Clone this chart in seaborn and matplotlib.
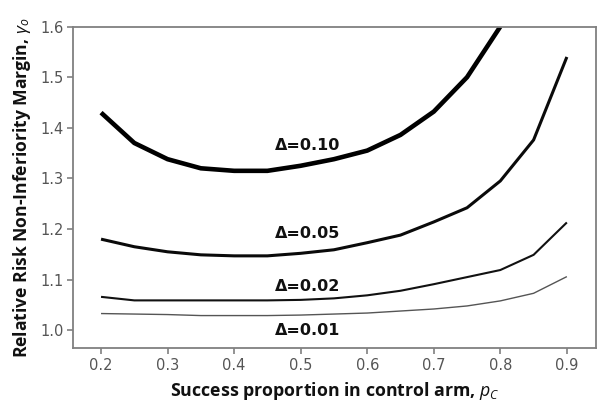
import matplotlib
matplotlib.use("Agg")
import matplotlib.pyplot as plt
import seaborn as sns
import pandas as pd

# ---- data ----
pc = [0.20, 0.25, 0.30, 0.35, 0.40, 0.45, 0.50, 0.55, 0.60, 0.65, 0.70, 0.75, 0.80, 0.85, 0.90]
gamma_d10 = [1.430, 1.370, 1.338, 1.320, 1.315, 1.315, 1.325, 1.338, 1.355, 1.386, 1.432, 1.500, 1.600]
gamma_d05 = [1.180, 1.165, 1.155, 1.149, 1.147, 1.147, 1.152, 1.159, 1.173, 1.188, 1.214, 1.242, 1.295, 1.376, 1.540]
gamma_d02 = [1.066, 1.059, 1.059, 1.059, 1.059, 1.059, 1.060, 1.063, 1.069, 1.078, 1.091, 1.105, 1.119, 1.149, 1.213]
gamma_d01 = [1.033, 1.032, 1.031, 1.029, 1.029, 1.029, 1.030, 1.032, 1.034, 1.038, 1.042, 1.048, 1.058, 1.073, 1.106]
labels = ["Δ=0.10", "Δ=0.05", "Δ=0.02", "Δ=0.01"]
label_x = [0.51, 0.51, 0.51, 0.51]
label_y = [1.366, 1.192, 1.086, 1.000]
xticks = [0.2, 0.3, 0.4, 0.5, 0.6, 0.7, 0.8, 0.9]
yticks = [1.0, 1.1, 1.2, 1.3, 1.4, 1.5, 1.6]

sns.set_style("white")
plt.rcParams['font.family'] = ['DejaVu Sans']
plt.rcParams['mathtext.fontset'] = 'custom'
plt.rcParams['mathtext.it'] = 'Open Sans:italic'
plt.rcParams['mathtext.rm'] = 'Open Sans'

fig = plt.figure(figsize=(6.04, 4.09), dpi=100)
ax = fig.add_axes([0.121, 0.148, 0.866, 0.787])

series = [gamma_d10, gamma_d05, gamma_d02, gamma_d01]
widths = [3.3, 2.2, 1.5, 1.0]
colors = ["#000000", "#0a0a0a", "#111111", "#555555"]
for vals, lw, c in zip(series, widths, colors):
    df = pd.DataFrame({"pc": pc[:len(vals)], "g": vals})
    sns.lineplot(data=df, x="pc", y="g", ax=ax, color=c, linewidth=lw,
                 solid_joinstyle="miter", solid_capstyle="butt")

for lab, x, y in zip(labels, label_x, label_y):
    ax.text(x, y, lab, ha="center", va="center", fontsize=11.5, fontweight="bold", color="#111111")

ax.set_xlim(0.158, 0.944)
ax.set_ylim(0.964, 1.6)
ax.set_xticks(xticks)
ax.set_yticks(yticks)
ax.set_xticklabels([f"{v:.1f}" for v in xticks])
ax.set_yticklabels([f"{v:.1f}" for v in yticks])
ax.tick_params(axis="both", direction="out", length=4, width=1.2, color="#808080",
               labelcolor="#555555", labelsize=10.5, pad=3)
ax.tick_params(axis="x", bottom=True)
ax.tick_params(axis="y", left=True)
for s in ax.spines.values():
    s.set_color("#808080")
    s.set_linewidth(1.3)
    s.set_visible(True)

ax.set_xlabel(r"Success proportion in control arm, $p_C$", fontsize=12.8, fontweight="bold",
              family=["Open Sans", "DejaVu Sans"], color="#111111", labelpad=5)
ax.set_ylabel(r"Relative Risk Non-Inferiority Margin, $\gamma_o$", fontsize=12.6,
              fontweight="bold", family=["Open Sans", "DejaVu Sans"], color="#111111", labelpad=5)

fig.savefig("out.png", dpi=100)
